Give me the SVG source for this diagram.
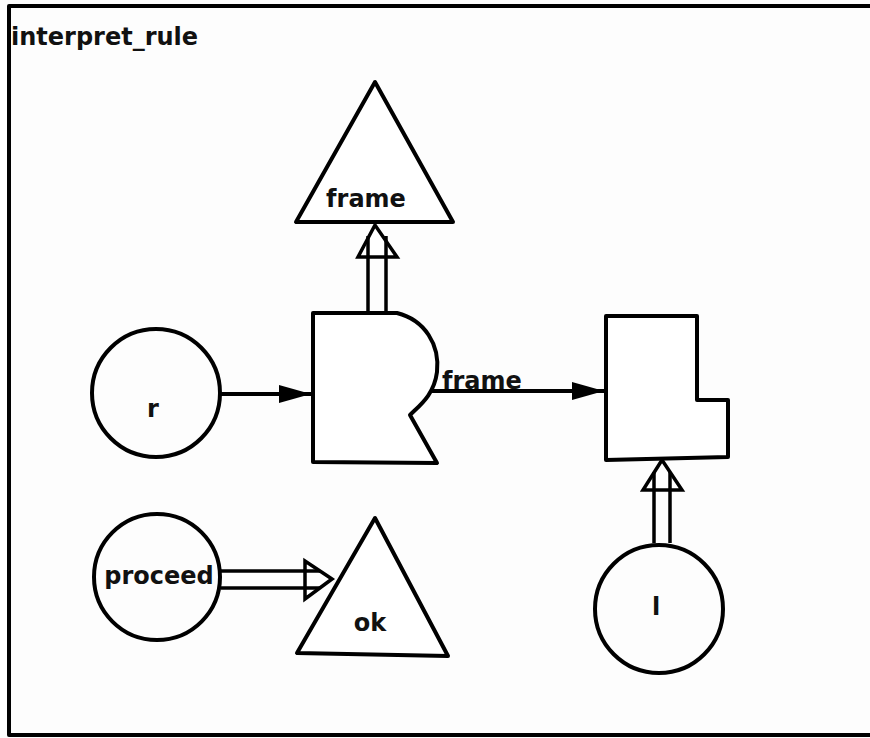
<svg xmlns="http://www.w3.org/2000/svg" width="870" height="738" viewBox="0 0 870 738">
<style>
.s{fill:none;stroke:#000;stroke-width:4;stroke-linejoin:round;stroke-linecap:round}
.w{fill:#fff;stroke:#000;stroke-width:4;stroke-linejoin:round}
.d{fill:none;stroke:#000;stroke-width:3.5}
.h{fill:#fff;stroke:#000;stroke-width:3.5;stroke-linejoin:miter}
.t{font-family:"DejaVu Sans",sans-serif;font-weight:bold;font-size:24px;fill:#111}
</style>
<defs>
<marker id="fa" markerUnits="userSpaceOnUse" markerWidth="34" markerHeight="22" refX="32" refY="11" orient="auto">
<path d="M0,2 L32,11 L0,20 Z" fill="#000"/>
</marker>
</defs>
<rect width="870" height="738" fill="#fdfdfd"/>
<g id="border">
<path class="s" d="M870,6 L9,6 L9,735 L870,735"/>
<text class="t" x="11" y="45" font-size="25">interpret_rule</text>
</g>
<g id="connectors">
<line class="s" x1="221" y1="394" x2="311" y2="394" marker-end="url(#fa)"/>
<line class="s" x1="430" y1="391" x2="604" y2="391" marker-end="url(#fa)"/>
<text class="t" x="442" y="389">frame</text>
<!-- double arrow R -> frame triangle -->
<g>
<polygon class="h" points="375,225 358,257 397,257"/>
<line class="d" x1="368" y1="313" x2="368" y2="236"/>
<line class="d" x1="386" y1="313" x2="386" y2="236"/>
</g>
<!-- double arrow l -> box -->
<g>
<polygon class="h" points="662,460 643,490 682,490"/>
<line class="d" x1="654" y1="543" x2="654" y2="472"/>
<line class="d" x1="670" y1="543" x2="670" y2="472"/>
</g>
<!-- double arrow proceed -> ok -->
<g>
<polygon class="h" points="332,579 305,561 305,599"/>
<line class="d" x1="221" y1="571" x2="320" y2="571"/>
<line class="d" x1="221" y1="588" x2="320" y2="588"/>
</g>
</g>
<g id="frame_top">
<polygon class="w" points="375,82 296,222 453,222"/>
<text class="t" x="366" y="207" text-anchor="middle">frame</text>
</g>
<g id="r">
<circle class="s" cx="156" cy="393" r="64"/>
<text class="t" x="153" y="417" text-anchor="middle">r</text>
</g>
<g id="rshape">
<path class="w" d="M313,313 L397,313 C425,320 440,345 437,372 C434,395 420,405 410,415 L437,463 L313,462 Z"/>
</g>
<g id="lbox">
<polygon class="w" points="606,316 697,316 697,400 728,400 728,457 606,460"/>
</g>
<g id="proceed">
<circle class="s" cx="157" cy="577" r="63"/>
<text class="t" x="159" y="584" text-anchor="middle">proceed</text>
</g>
<g id="ok">
<polygon class="w" points="375,518 297,653 448,656"/>
<text class="t" x="370" y="631" text-anchor="middle">ok</text>
</g>
<g id="l">
<circle class="s" cx="659" cy="609" r="64"/>
<text class="t" x="656" y="615" text-anchor="middle">l</text>
</g>
</svg>
